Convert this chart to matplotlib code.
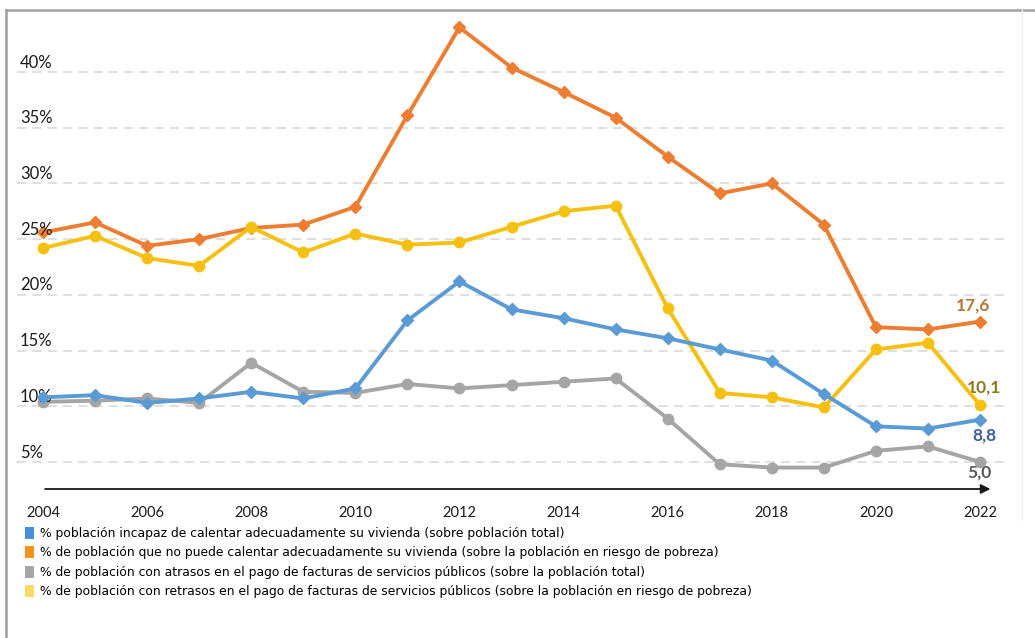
import matplotlib
matplotlib.use('Agg')
import matplotlib.pyplot as plt
import matplotlib.font_manager as fm
from matplotlib.patches import Patch
from matplotlib.lines import Line2D

# datos
years = list(range(2004, 2023))
incapaz_total = [10.8, 11.0, 10.3, 10.7, 11.3, 10.7, 11.6, 17.7, 21.2, 18.7,
                 17.9, 16.9, 16.1, 15.1, 14.1, 11.1, 8.2, 8.0, 8.8]
incapaz_pobreza = [25.6, 26.5, 24.4, 25.0, 26.0, 26.3, 27.9, 36.1, 44.0, 40.4,
                   38.2, 35.9, 32.4, 29.1, 30.0, 26.3, 17.1, 16.9, 17.6]
atrasos_total = [10.4, 10.5, 10.7, 10.3, 13.9, 11.3, 11.2, 12.0, 11.6, 11.9,
                 12.2, 12.5, 8.9, 4.8, 4.5, 4.5, 6.0, 6.4, 5.0]
retrasos_pobreza = [24.2, 25.3, 23.3, 22.6, 26.1, 23.8, 25.5, 24.5, 24.7, 26.1,
                    27.5, 28.0, 18.8, 11.2, 10.8, 9.9, 15.1, 15.7, 10.1]

yticks = [5, 10, 15, 20, 25, 30, 35, 40]
ytick_labels = ['5%', '10%', '15%', '20%', '25%', '30%', '35%', '40%']
xticks = list(range(2004, 2023, 2))

legend_labels = [
    '% población incapaz de calentar adecuadamente su vivienda (sobre población total)',
    '% de población que no puede calentar adecuadamente su vivienda (sobre la población en riesgo de pobreza)',
    '% de población con atrasos en el pago de facturas de servicios públicos (sobre la población total)',
    '% de población con retrasos en el pago de facturas de servicios públicos (sobre la población en riesgo de pobreza)',
]

names = set(f.name for f in fm.fontManager.ttflist)
main_font = 'Lato' if 'Lato' in names else 'DejaVu Sans'
if 'Liberation Sans Narrow' in names:
    leg_font, leg_size = 'Liberation Sans Narrow', 10.8
else:
    leg_font, leg_size = 'DejaVu Sans Condensed', 8.9
plt.rcParams['font.family'] = [main_font, 'DejaVu Sans']

c_blue = '#5B9BD5'
c_orange = '#ED7D31'
c_gray = '#A5A5A5'
c_yellow = '#F5C00F'

W, H = 1035, 638
fig = plt.figure(figsize=(W / 100, H / 100), dpi=100)
fig.patch.set_facecolor('white')
ax = fig.add_axes([17 / W, (H - 489) / H, 988 / W, 478 / H])

ax.set_xlim(2003.50, 2022.48)
ax.set_ylim(2.577, 45.47)

ax.plot(years, incapaz_pobreza, color=c_orange, lw=2.8, marker='D', ms=6.5, zorder=2)
ax.plot(years, atrasos_total, color=c_gray, lw=2.8, marker='o', ms=7.5, zorder=3)
ax.plot(years, retrasos_pobreza, color=c_yellow, lw=2.8, marker='o', ms=7.5, zorder=4)
ax.plot(years, incapaz_total, color=c_blue, lw=2.8, marker='D', ms=6.5, zorder=5)

# rejilla discontinua
ax.set_yticks(yticks)
ax.yaxis.grid(True, color='#D6D6D6', lw=1.1, linestyle=(0, (6, 4)))
ax.set_axisbelow(True)
ax.tick_params(axis='y', length=0, labelleft=False)
for v, lab in zip(yticks, ytick_labels):
    ax.text(0.003, v + 0.4, lab, transform=ax.get_yaxis_transform(),
            ha='left', va='baseline', fontsize=12, color='#1a1a1a')

ax.set_xticks(xticks)
ax.set_xticklabels([str(x) for x in xticks])
ax.tick_params(axis='x', length=0, pad=12, labelsize=10.5, labelcolor='#1a1a1a')
for s in ax.spines.values():
    s.set_visible(False)

# eje x con flecha
ax.annotate('', xy=(2022.2, 2.577), xytext=(2004.04, 2.577),
            arrowprops=dict(arrowstyle='-|>', color='#1a1a1a', lw=1.3,
                            mutation_scale=14, shrinkA=0, shrinkB=0),
            annotation_clip=False)

# etiquetas del ultimo valor
last = [(incapaz_pobreza[-1], '17,6', '#B47638', (-7, 16)),
        (retrasos_pobreza[-1], '10,1', '#8A7A1E', (4, 18)),
        (incapaz_total[-1], '8,8', '#3E5E9C', (4, -16)),
        (atrasos_total[-1], '5,0', '#595959', (-1, -11))]
for v, txt, col, off in last:
    ax.annotate(txt, xy=(years[-1], v), xytext=off, textcoords='offset pixels',
                ha='center', va='center', fontsize=12.5, fontweight='bold', color=col)

# leyenda
handles = [Patch(facecolor=c, edgecolor='none') for c in ['#4A8FDB', '#F0941C', '#A6A6A6', '#FFD966']]
fig.legend(handles, legend_labels, loc='upper left', bbox_to_anchor=(25 / W, 1 - 527 / H),
           frameon=False, handlelength=0.75, handleheight=1.1, handletextpad=0.5,
           labelspacing=0.5, borderpad=0, borderaxespad=0,
           prop=fm.FontProperties(family=[leg_font, 'DejaVu Sans'], size=leg_size))

# marco exterior
fig.add_artist(Line2D([6 / W, 6 / W], [0, 1 - 10 / H], color='#A0A0A0', lw=1.8))
fig.add_artist(Line2D([6 / W, 1], [1 - 10 / H, 1 - 10 / H], color='#A0A0A0', lw=1.8))
fig.add_artist(Line2D([1022 / W, 1022 / W], [(H - 520) / H, 1 - 10 / H], color='#F2F2F2', lw=1))

fig.savefig('out.png', dpi=100)
